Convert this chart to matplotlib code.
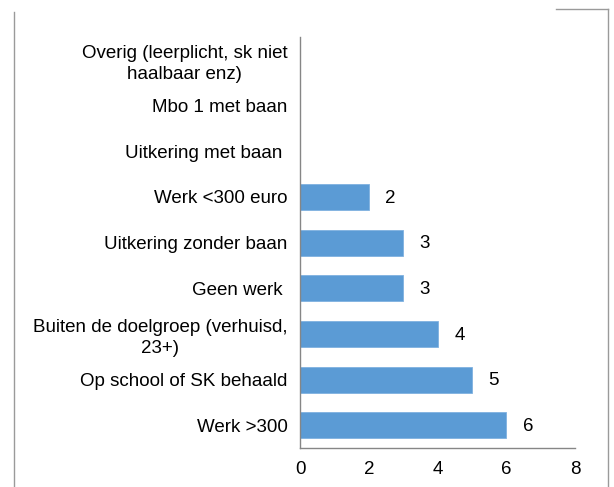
import matplotlib.pyplot as plt
from matplotlib.lines import Line2D

plt.rcParams['font.family'] = ['Liberation Sans', 'DejaVu Sans']

categories = [
    "Werk >300",
    "Op school of SK behaald",
    "Buiten de doelgroep (verhuisd,\n23+)",
    "Geen werk ",
    "Uitkering zonder baan",
    "Werk <300 euro",
    "Uitkering met baan ",
    "Mbo 1 met baan",
    "Overig (leerplicht, sk niet\nhaalbaar enz)",
]
values = [6, 5, 4, 3, 3, 2, 0, 0, 0]
xticks = [0, 2, 4, 6, 8]

fig = plt.figure(figsize=(6.14, 4.87), dpi=100)
ax = fig.add_axes([0.4886, 0.080, 0.4479, 0.844])

pos = list(range(len(categories)))
ax.barh(pos, values, height=0.57, color='#5B9BD5', edgecolor='#7FB1E0', linewidth=0.6)

for p, v in zip(pos, values):
    if v > 0:
        ax.annotate(str(v), (v, p), xytext=(12, -1), textcoords='offset points',
                    va='center', ha='left', fontsize=13.5)

ax.set_xlim(0, 8)
ax.set_ylim(-0.5, len(categories) - 0.5)
ax.set_xticks(xticks)
ax.set_yticks(pos)
ax.set_yticklabels(categories, multialignment='center', linespacing=1.35)
ax.tick_params(axis='both', length=0, labelsize=13.5)
ax.tick_params(axis='y', pad=9)
ax.tick_params(axis='x', pad=9)

for s in ['top', 'right']:
    ax.spines[s].set_visible(False)
for s in ['left', 'bottom']:
    ax.spines[s].set_color('#868686')
    ax.spines[s].set_linewidth(1)

# outer chart frame (partially visible)
frame = '#9a9a9a'
fig.add_artist(Line2D([14 / 614, 14 / 614], [0, 1 - 12 / 487], color=frame, lw=1))
fig.add_artist(Line2D([556 / 614, 608 / 614], [1 - 9 / 487, 1 - 9 / 487], color=frame, lw=1))
fig.add_artist(Line2D([608 / 614, 608 / 614], [0, 1 - 9 / 487], color=frame, lw=1))

plt.savefig('out.png', dpi=100)
